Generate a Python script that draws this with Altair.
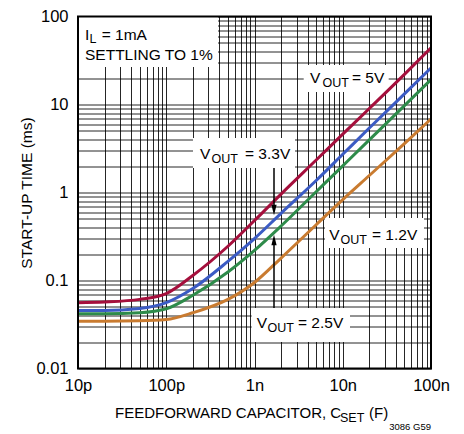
import altair as alt
import pandas as pd

# ---------------- data ----------------
cap_farads = [1e-11, 2e-11, 5e-11, 1e-10, 2e-10, 5e-10, 1e-9, 2e-9, 5e-9, 1e-8, 2e-8, 5e-8, 1e-7]
t_5v0 = [0.056, 0.057, 0.061, 0.071, 0.114, 0.245, 0.48, 0.96, 2.34, 4.6, 9.0, 22.0, 44.0]
t_3v3 = [0.0456, 0.0456, 0.048, 0.056, 0.081, 0.165, 0.30, 0.58, 1.37, 2.72, 5.4, 13.2, 26.0]
t_2v5 = [0.0418, 0.0418, 0.043, 0.0477, 0.068, 0.125, 0.22, 0.416, 1.02, 2.01, 3.96, 9.7, 19.2]
t_1v2 = [0.0345, 0.0345, 0.0348, 0.036, 0.043, 0.061, 0.095, 0.18, 0.43, 0.83, 1.56, 3.6, 6.85]
series_names = ["5V", "3.3V", "2.5V", "1.2V"]
series_colors = ["#A50F3C", "#3B5BC4", "#2E8B4A", "#C97B30"]

x_tick_values = [1e-11, 1e-10, 1e-9, 1e-8, 1e-7]
x_tick_labels = ["10p", "100p", "1n", "10n", "100n"]
y_tick_values = [0.01, 0.1, 1, 10, 100]
y_tick_labels = ["0.01", "0.1", "1", "10", "100"]

y_title = "START-UP TIME (ms)"
FONT = "Liberation Sans, Arial, sans-serif"

# ---------------- layout ----------------
W, H = 353, 352
PLOT_L, PLOT_T = 78, 16.5
PLOT_B = PLOT_T + H
DEC_X, DEC_Y = W / 4, H / 4


def C_at(px):
    return 1e-11 * 10 ** ((px - PLOT_L) / DEC_X)


def t_at(py):
    return 0.01 * 10 ** ((PLOT_B - py) / DEC_Y)


rows = []
for name, vals in zip(series_names, [t_5v0, t_3v3, t_2v5, t_1v2]):
    for c, t in zip(cap_farads, vals):
        rows.append({"series": name, "C": c, "t": t})
df = pd.DataFrame(rows)

x_grid = [m * 10 ** e for e in range(-11, -7) for m in range(1, 10)] + [1e-7]
y_grid = [m * 10 ** e for e in range(-2, 2) for m in range(1, 10)] + [100]


def label_expr(vals, labs):
    s = "".join(f"abs(datum.value/{v}-1)<1e-6?'{l}':" for v, l in zip(vals, labs))
    return s + "''"


xs = alt.Scale(type="log", domain=[1e-11, 1e-7])
ys = alt.Scale(type="log", domain=[0.01, 100])

x_axis = alt.Axis(values=x_grid, labelExpr=label_expr(x_tick_values, x_tick_labels),
                  title=None, labelFlush=False, labelOverlap=False, labelPadding=9,
                  labelFontSize=16.5)
y_axis = alt.Axis(values=y_grid, labelExpr=label_expr(y_tick_values, y_tick_labels),
                  title=y_title, labelFlush=False, labelOverlap=False, labelPadding=10,
                  labelFontSize=16.5, titleX=-47, titleY=H / 2, titleAngle=270,
                  titleBaseline="alphabetic", titleAlign="center", titleFontSize=15.5,
                  titleFont=FONT, titleFontWeight="normal", titleColor="#000")


def X(f="C"):
    return alt.X(f"{f}:Q", scale=xs, axis=x_axis)


def Y(f="t"):
    return alt.Y(f"{f}:Q", scale=ys, axis=y_axis)


# white label boxes (pixel-measured, mapped to data)
boxes = [(78, 218, 16.5, 67), (303.7, 388.7, 65, 92), (193, 295, 138, 168),
         (251.7, 350, 308, 342), (325, 424, 218, 248)]
box_df = pd.DataFrame([{"C": C_at(a), "C2": C_at(b), "t": t_at(c), "t2": t_at(d)}
                       for a, b, c, d in boxes])

main_text = [("I", 85, 39.5), ("= 1mA", 101.7, 39.5), ("SETTLING TO 1%", 85, 60),
             ("V", 310, 83), ("= 5V", 352, 83),
             ("V", 200, 159), ("= 3.3V", 245, 159),
             ("V", 256.7, 328), ("= 2.5V", 298, 328),
             ("V", 329.3, 240), ("= 1.2V", 372, 240)]
title_text = [("FEEDFORWARD CAPACITOR, C", 115, 418), ("(F)", 369, 418)]
sub_text = [("L", 89.5, 43), ("OUT", 322.5, 87), ("OUT", 211.5, 163), ("OUT", 267.5, 332),
            ("OUT", 340.5, 244)]
title_sub = [("SET", 340, 422)]


def text_df(items):
    return pd.DataFrame([{"text": s, "C": C_at(a), "t": t_at(b)} for s, a, b in items])


note_df = pd.DataFrame([{"text": "3086 G59", "C": C_at(431), "t": t_at(430)}])

arrow_px = 274
shaft_df = pd.DataFrame([{"C": C_at(arrow_px), "t": t_at(168), "t2": t_at(206)},
                         {"C": C_at(arrow_px), "t": t_at(308), "t2": t_at(244)}])
head_down_df = pd.DataFrame([{"C": C_at(arrow_px), "t": t_at(210)}])
head_up_df = pd.DataFrame([{"C": C_at(arrow_px), "t": t_at(240)}])
frame_df = pd.DataFrame([{"C": 1e-11, "C2": 1e-7, "t": 0.01, "t2": 100}])

box_layer = alt.Chart(box_df).mark_rect(color="white").encode(
    x=X(), x2="C2", y=Y(), y2="t2")
line_layer = alt.Chart(df).mark_line(strokeWidth=3, interpolate="monotone").encode(
    x=X(), y=Y(),
    color=alt.Color("series:N", scale=alt.Scale(domain=series_names, range=series_colors),
                    legend=None))
frame_layer = alt.Chart(frame_df).mark_rect(fill=None, stroke="black", strokeWidth=2,
                                            fillOpacity=0).encode(
    x=X(), x2="C2", y=Y(), y2="t2")
shaft_layer = alt.Chart(shaft_df).mark_rule(color="black", strokeWidth=1.5).encode(
    x=X(), y=Y(), y2="t2")
head_down = alt.Chart(head_down_df).mark_point(
    shape="M-0.5,-1L0.5,-1L0,1Z", filled=True, color="black", size=110, opacity=1).encode(
    x=X(), y=Y())
head_up = alt.Chart(head_up_df).mark_point(
    shape="M-0.5,1L0.5,1L0,-1Z", filled=True, color="black", size=110, opacity=1).encode(
    x=X(), y=Y())


def text_layer(items, size, align="left"):
    return alt.Chart(text_df(items)).mark_text(
        align=align, baseline="alphabetic", font=FONT, fontSize=size, color="black").encode(
        x=X(), y=Y(), text="text:N")


main_layer = text_layer(main_text, 15.5)
sub_layer = text_layer(sub_text, 12.5)
xtitle_layer = text_layer(title_text, 15)
xtitle_sub = text_layer(title_sub, 12.5)
note_layer = alt.Chart(note_df).mark_text(
    align="right", baseline="alphabetic", font=FONT, fontSize=9.5, color="black").encode(
    x=X(), y=Y(), text="text:N")

chart = alt.layer(box_layer, line_layer, frame_layer, shaft_layer, head_down, head_up,
                  main_layer, sub_layer, xtitle_layer, xtitle_sub, note_layer).properties(
    width=W, height=H,
    autosize=alt.AutoSizeParams(type="none"),
    padding={"left": 70, "top": 8.5, "right": 25, "bottom": 63},
    background="white",
).configure_view(stroke=None).configure_axis(
    grid=True, gridColor="#000", gridOpacity=0.85, gridWidth=1,
    ticks=False, domain=False, labelFont=FONT, labelColor="#000",
    labelFontSize=16.5, titleFont=FONT,
)

chart.save("out.html", embed_options={"renderer": "svg", "actions": False})
